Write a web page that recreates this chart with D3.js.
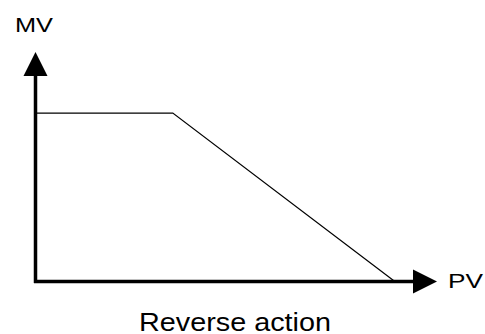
<!DOCTYPE html>
<html lang="en">
<head>
    <meta charset="UTF-8">
    <title>Reverse action</title>
    <script src="https://d3js.org/d3.v7.min.js"></script>
    <style>
        body, html {
            margin: 0;
            padding: 0;
            background-color: #fff;
            overflow: hidden;
        }
        svg {
            display: block;
            font-family: 'Liberation Sans', Arial, sans-serif;
        }
    </style>
</head>
<body>
    <svg width="485" height="334"></svg>

    <script>
        // characteristic: MV vs PV (percent of span)
        const pvValues = [0, 34.2, 89.5];
        const mvValues = [73.4, 73.4, 0];
        const xLabel = 'PV';
        const yLabel = 'MV';
        const caption = 'Reverse action';

        const svg = d3.select('svg');

        const x = d3.scaleLinear().domain([0, 100]).range([35.5, 437]);
        const y = d3.scaleLinear().domain([0, 100]).range([281.5, 52]);

        const arrowLen = 24;   // length of arrow heads
        const arrowHalf = 12;  // half width of arrow heads

        // axes lines
        svg.append('path')
            .attr('d', `M${x(0)},${y(0) + 1.5}V${y(100) + arrowLen}`)
            .attr('stroke', '#000')
            .attr('stroke-width', 3.5)
            .attr('fill', 'none');

        svg.append('path')
            .attr('d', `M${x(0) - 1.5},${y(0)}H${x(100) - arrowLen}`)
            .attr('stroke', '#000')
            .attr('stroke-width', 3.5)
            .attr('fill', 'none');

        // arrow heads
        svg.append('path')
            .attr('d', `M${x(0)},${y(100)}L${x(0) - arrowHalf},${y(100) + arrowLen}L${x(0) + arrowHalf},${y(100) + arrowLen}Z`)
            .attr('fill', '#000');

        svg.append('path')
            .attr('d', `M${x(100)},${y(0)}L${x(100) - arrowLen},${y(0) - arrowHalf}L${x(100) - arrowLen},${y(0) + arrowHalf}Z`)
            .attr('fill', '#000');

        // characteristic line
        const line = d3.line()
            .x(d => x(d[0]))
            .y(d => y(d[1]));

        svg.append('path')
            .datum(pvValues.map((v, i) => [v, mvValues[i]]))
            .attr('d', line)
            .attr('stroke', '#000')
            .attr('stroke-width', 1.2)
            .attr('fill', 'none');

        // labels
        svg.append('text')
            .attr('x', 15)
            .attr('y', 32)
            .attr('font-size', 20)
            .attr('textLength', 38)
            .attr('lengthAdjust', 'spacingAndGlyphs')
            .text(yLabel);

        svg.append('text')
            .attr('x', 448)
            .attr('y', 288)
            .attr('font-size', 21)
            .attr('textLength', 35)
            .attr('lengthAdjust', 'spacingAndGlyphs')
            .text(xLabel);

        svg.append('text')
            .attr('x', 139)
            .attr('y', 331)
            .attr('font-size', 26)
            .attr('textLength', 192)
            .attr('lengthAdjust', 'spacingAndGlyphs')
            .text(caption);
    </script>
</body>
</html>
